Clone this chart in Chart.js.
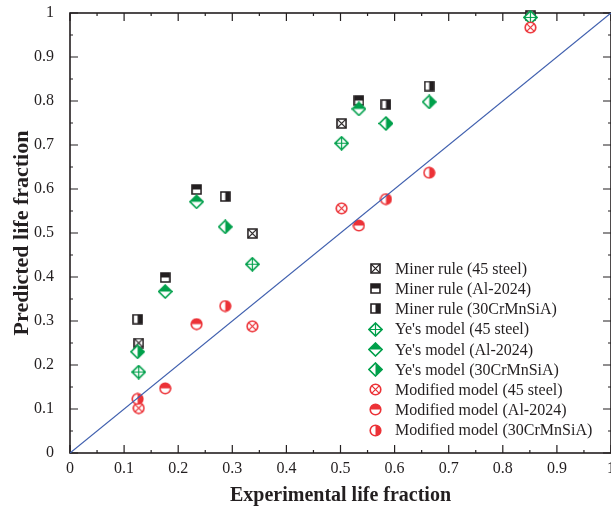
<!DOCTYPE html>
<html>
<head>
<meta charset="utf-8">
<script src="https://cdn.jsdelivr.net/npm/chart.js@4.4.0/dist/chart.umd.min.js"></script>
<style>
  html, body { margin: 0; padding: 0; background: #fff; }
</style>
</head>
<body>
<canvas id="lifeChart" width="611" height="514"></canvas>
<script>
// experimental life fraction, per material
const x45 = [0.127, 0.337, 0.502, 0.851];
const xAl = [0.176, 0.234, 0.534];
const xCr = [0.125, 0.287, 0.584, 0.664];

// predicted life fraction
const minerY45 = [0.250, 0.499, 0.749, 0.995];
const minerYAl = [0.399, 0.599, 0.801];
const minerYCr = [0.304, 0.583, 0.792, 0.834];
const yeY45 = [0.184, 0.429, 0.704, 0.990];
const yeYAl = [0.367, 0.571, 0.782];
const yeYCr = [0.230, 0.514, 0.749, 0.798];
const modY45 = [0.102, 0.288, 0.556, 0.967];
const modYAl = [0.147, 0.293, 0.517];
const modYCr = [0.123, 0.334, 0.577, 0.637];

const diagX = [0, 1];
const diagY = [0, 1];

const majorTicks = [0, 0.1, 0.2, 0.3, 0.4, 0.5, 0.6, 0.7, 0.8, 0.9, 1];
const minorTicks = [0.05, 0.15, 0.25, 0.35, 0.45, 0.55, 0.65, 0.75, 0.85, 0.95];

const BLACK = '#231f20';
const GREEN = '#00a04b';
const RED = '#ec3237';
const BLUE = '#3f5fae';
const SERIF = '"Liberation Serif", "Times New Roman", serif';

// little canvases used as point styles
function marker(shape, mode, color) {
  const size = shape === 'diamond' ? 15 : (shape === 'circle' ? 13 : 11);
  const c = document.createElement('canvas');
  c.width = size; c.height = size;
  const g = c.getContext('2d');
  const m = size / 2;
  function path() {
    g.beginPath();
    if (shape === 'square') {
      g.rect(m - 4.5, m - 4.5, 9, 9);
    } else if (shape === 'diamond') {
      g.moveTo(m, m - 6.5); g.lineTo(m + 6.5, m); g.lineTo(m, m + 6.5); g.lineTo(m - 6.5, m); g.closePath();
    } else {
      g.arc(m, m, 5.3, 0, Math.PI * 2);
    }
  }
  path(); g.fillStyle = '#fff'; g.fill();
  g.save();
  path(); g.clip();
  g.fillStyle = color; g.strokeStyle = color; g.lineWidth = 1.2;
  if (mode === 'top') {
    g.fillRect(0, 0, size, m);
  } else if (mode === 'right') {
    g.fillRect(m, 0, size, size);
  } else if (shape === 'diamond') {
    g.beginPath(); g.moveTo(m, 0); g.lineTo(m, size); g.moveTo(0, m); g.lineTo(size, m); g.stroke();
  } else {
    g.beginPath(); g.moveTo(0, 0); g.lineTo(size, size); g.moveTo(size, 0); g.lineTo(0, size); g.stroke();
  }
  g.restore();
  path(); g.strokeStyle = color; g.lineWidth = 1.6; g.stroke();
  return c;
}

function pts(xs, ys) {
  return xs.map((v, i) => ({ x: v, y: ys[i] }));
}

// later series sit on top of earlier ones
function series(idx, label, xs, ys, shape, mode, color) {
  return {
    type: 'scatter',
    label: label,
    data: pts(xs, ys),
    pointStyle: marker(shape, mode, color),
    pointRadius: 6,
    clip: false,
    order: 20 - idx
  };
}

const datasets = [
  series(0, 'Miner rule (45 steel)', x45, minerY45, 'square', 'x', BLACK),
  series(1, 'Miner rule (Al-2024)', xAl, minerYAl, 'square', 'top', BLACK),
  series(2, 'Miner rule (30CrMnSiA)', xCr, minerYCr, 'square', 'right', BLACK),
  series(3, "Ye's model (45 steel)", x45, yeY45, 'diamond', 'x', GREEN),
  series(4, "Ye's model (Al-2024)", xAl, yeYAl, 'diamond', 'top', GREEN),
  series(5, "Ye's model (30CrMnSiA)", xCr, yeYCr, 'diamond', 'right', GREEN),
  series(6, 'Modified model (45 steel)', x45, modY45, 'circle', 'x', RED),
  series(7, 'Modified model (Al-2024)', xAl, modYAl, 'circle', 'top', RED),
  series(8, 'Modified model (30CrMnSiA)', xCr, modYCr, 'circle', 'right', RED),
  {
    type: 'line',
    label: '',
    data: pts(diagX, diagY),
    borderColor: BLUE,
    borderWidth: 1.2,
    pointRadius: 0,
    order: 0
  }
];

// box round the plot with inward ticks on all four sides
const framePlugin = {
  id: 'frame',
  beforeDatasetsDraw(chart) {
    const { ctx, chartArea: a, scales: { x, y } } = chart;
    ctx.save();
    ctx.strokeStyle = BLACK;
    ctx.lineWidth = 1.6;
    ctx.strokeRect(a.left, a.top, a.right - a.left, a.bottom - a.top);
    ctx.lineWidth = 1.2;
    ctx.beginPath();
    const ticks = majorTicks.map(v => [v, 8]).concat(minorTicks.map(v => [v, 3]));
    ticks.forEach(([v, len]) => {
      const px = x.getPixelForValue(v);
      const py = y.getPixelForValue(v);
      ctx.moveTo(px, a.bottom); ctx.lineTo(px, a.bottom - len);
      ctx.moveTo(px, a.top); ctx.lineTo(px, a.top + len);
      ctx.moveTo(a.left, py); ctx.lineTo(a.left + len, py);
      ctx.moveTo(a.right, py); ctx.lineTo(a.right - len, py);
    });
    ctx.stroke();
    ctx.restore();
  }
};

// legend drawn inside the plot, bottom right
const legendPlugin = {
  id: 'insideLegend',
  afterDatasetsDraw(chart) {
    const ctx = chart.ctx;
    ctx.save();
    ctx.font = '16px ' + SERIF;
    ctx.fillStyle = BLACK;
    ctx.textBaseline = 'middle';
    chart.data.datasets.forEach((ds, i) => {
      if (!ds.label) return;
      const cy = 268.5 + i * 20.2;
      const img = ds.pointStyle;
      ctx.drawImage(img, Math.round(375 - img.width / 2), Math.round(cy - img.height / 2));
      ctx.fillText(ds.label, 395, cy + 1);
    });
    ctx.restore();
  }
};

const tickText = v => String(Math.round(v * 10) / 10);

const ctx = document.getElementById('lifeChart').getContext('2d');
const lifeChart = new Chart(ctx, {
  data: { datasets: datasets },
  options: {
    responsive: false,
    animation: false,
    devicePixelRatio: 1,
    layout: { autoPadding: false, padding: { top: 13, right: 0, bottom: 0, left: 0 } },
    plugins: {
      legend: { display: false },
      tooltip: { enabled: false }
    },
    scales: {
      x: {
        type: 'linear',
        min: 0,
        max: 1,
        border: { display: false },
        grid: { display: false, drawTicks: false },
        ticks: {
          stepSize: 0.1,
          padding: 6,
          color: BLACK,
          callback: tickText,
          font: { family: SERIF, size: 16 }
        },
        title: {
          display: true,
          text: 'Experimental life fraction',
          color: BLACK,
          padding: { top: 0, bottom: 6 },
          font: { family: SERIF, size: 20, weight: 'bold' }
        },
        afterFit: function (scale) {
          scale.height = 61;
          scale.paddingLeft = 0;
          scale.paddingRight = 0;
        }
      },
      y: {
        type: 'linear',
        min: 0,
        max: 1,
        border: { display: false },
        grid: { display: false, drawTicks: false },
        ticks: {
          stepSize: 0.1,
          padding: 16,
          color: BLACK,
          callback: tickText,
          font: { family: SERIF, size: 16 }
        },
        title: {
          display: true,
          text: 'Predicted life fraction',
          color: BLACK,
          padding: { top: 9, bottom: 0 },
          font: { family: SERIF, size: 22, weight: 'bold' }
        },
        afterFit: function (scale) {
          scale.width = 70;
          scale.paddingTop = 0;
          scale.paddingBottom = 0;
        }
      }
    }
  },
  plugins: [framePlugin, legendPlugin]
});
</script>
</body>
</html>
